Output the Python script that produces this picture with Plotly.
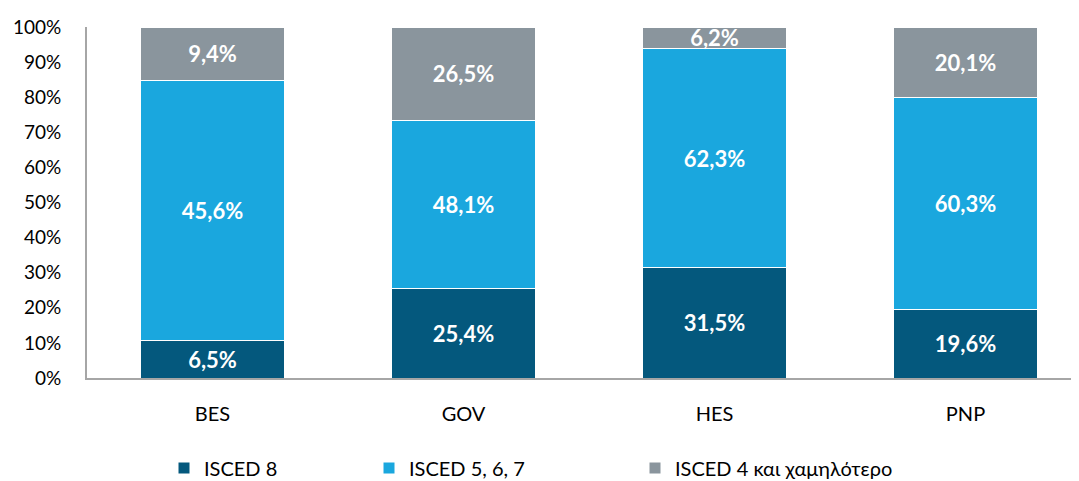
import plotly.graph_objects as go

categories = ["BES", "GOV", "HES", "PNP"]
isced8 = [6.5, 25.4, 31.5, 19.6]
isced567 = [45.6, 48.1, 62.3, 60.3]
isced4 = [9.4, 26.5, 6.2, 20.1]
series_names = ["ISCED 8", "ISCED 5, 6, 7", "ISCED 4 και χαμηλότερο"]
colors = ["#04587D", "#1AA7DE", "#8A959D"]
y_ticks = list(range(0, 101, 10))
y_ticktext = [f"{v}%" for v in y_ticks]

FONT = "Lato, 'Open Sans', sans-serif"

def fmt(v):
    return f"{v:.1f}".replace(".", ",") + "%"

fig = go.Figure()
legend_ids = ["legend", "legend2", "legend3"]
for name, vals, col, lg in zip(series_names, [isced8, isced567, isced4], colors, legend_ids):
    fig.add_trace(go.Bar(
        x=categories, y=vals, name=name,
        marker=dict(color=col, line=dict(color="white", width=1)),
        text=[fmt(v) for v in vals],
        textposition="inside", insidetextanchor="middle",
        constraintext="none",
        textfont=dict(color="white", size=22, family=FONT, weight="bold"),
        hoverinfo="skip", legend=lg,
    ))

# page body has an 8px default margin: work in page pixels, then shift
OFF = 8
W, H = 1079 - OFF, 481 - OFF
plot_l, plot_r, plot_t, plot_b = 87 - OFF, 1079 - OFF, 27 - OFF, 378 - OFF
pw, ph = plot_r - plot_l, plot_b - plot_t
cat_w = 251.0  # pixel width of one category slot (axis runs past the right edge)
x_max = -0.5 + pw / cat_w

def lx(px):
    return (px - OFF - plot_l) / pw

leg_y = (plot_b - (468 - OFF)) / ph
common = dict(orientation="h", yanchor="middle", y=leg_y, xanchor="left",
              font=dict(family=FONT, size=20, color="#000000"),
              bgcolor="rgba(0,0,0,0)", itemclick=False, itemdoubleclick=False)

fig.update_layout(
    width=W, height=H,
    margin=dict(l=plot_l, r=W - plot_r, t=plot_t, b=H - plot_b, autoexpand=False),
    paper_bgcolor="white", plot_bgcolor="white",
    barmode="stack", barnorm="percent", bargap=0.426,
    font=dict(family=FONT, size=19, color="#000000"),
    showlegend=True,
    legend=dict(x=lx(182 - 18), **common),
    legend2=dict(x=lx(389 - 20), **common),
    legend3=dict(x=lx(655 - 20), **common),
    xaxis=dict(range=[-0.5, x_max], showline=True, linecolor="#A6A6A6", linewidth=2,
               ticks="", ticklabelstandoff=17, tickfont=dict(size=20)),
    yaxis=dict(range=[0, 100], tickmode="array", tickvals=y_ticks, ticktext=y_ticktext,
               showgrid=False, showline=True, linecolor="#A6A6A6", linewidth=2, ticks="",
               ticklabelstandoff=20, zeroline=False, tickfont=dict(size=19)),
)

fig.write_html("out.html")
